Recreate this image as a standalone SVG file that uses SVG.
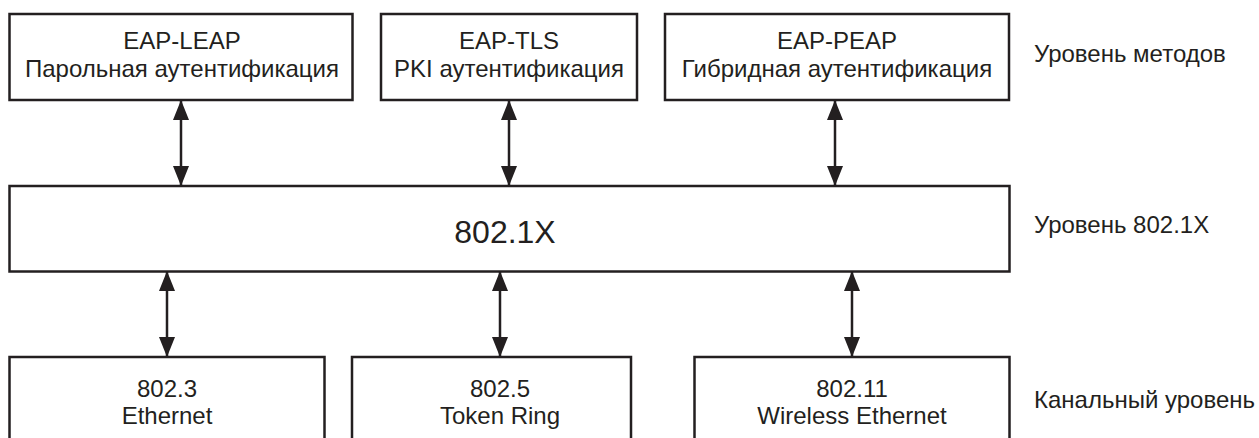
<svg xmlns="http://www.w3.org/2000/svg" width="1259" height="438" viewBox="0 0 1259 438">
<style>
.box{fill:#fff;stroke:#231f20;stroke-width:2.5}
.t{font-family:"Liberation Sans",Arial,sans-serif;font-size:24px;fill:#231f20;text-anchor:middle}
.lbl{font-family:"Liberation Sans",Arial,sans-serif;font-size:24px;fill:#231f20}
.big{font-size:32px}
.c{stroke:#231f20;stroke-width:2.5;fill:none;marker-start:url(#ah);marker-end:url(#ah)}
</style>
<defs>
<marker id="ah" viewBox="0 0 20 16" refX="20" refY="8" markerUnits="userSpaceOnUse" markerWidth="20" markerHeight="16" orient="auto-start-reverse">
<path d="M0,0 L20,8 L0,16 Z" fill="#231f20"/>
</marker>
</defs>
<rect width="1259" height="438" fill="#fff"/>
<g id="connectors">
<line class="c" x1="181" y1="100" x2="181" y2="186"/>
<line class="c" x1="509" y1="100" x2="509" y2="186"/>
<line class="c" x1="835" y1="100" x2="835" y2="186"/>
<line class="c" x1="167" y1="271" x2="167" y2="357"/>
<line class="c" x1="500" y1="271" x2="500" y2="357"/>
<line class="c" x1="852" y1="271" x2="852" y2="357"/>
</g>
<g id="leap">
<rect class="box" x="9.5" y="14" width="343" height="86"/>
<text class="t" x="182" y="49">EAP-LEAP</text>
<text class="t" x="182" y="77">Парольная аутентификация</text>
</g>
<g id="tls">
<rect class="box" x="381" y="14" width="256" height="86"/>
<text class="t" x="509" y="49">EAP-TLS</text>
<text class="t" x="509" y="77">PKI аутентификация</text>
</g>
<g id="peap">
<rect class="box" x="665" y="14" width="344" height="86"/>
<text class="t" x="837" y="49">EAP-PEAP</text>
<text class="t" x="837" y="77">Гибридная аутентификация</text>
</g>
<g id="dot1x">
<rect class="box" x="9.5" y="186" width="1000" height="85.5"/>
<text class="t big" x="505" y="243">802.1X</text>
</g>
<g id="eth">
<rect class="box" x="9.5" y="357" width="315" height="100"/>
<text class="t" x="167" y="397">802.3</text>
<text class="t" x="167" y="424">Ethernet</text>
</g>
<g id="token">
<rect class="box" x="352" y="357" width="279" height="100"/>
<text class="t" x="500" y="397">802.5</text>
<text class="t" x="500" y="424">Token Ring</text>
</g>
<g id="wireless">
<rect class="box" x="694.5" y="357" width="315" height="100"/>
<text class="t" x="852" y="397">802.11</text>
<text class="t" x="852" y="424">Wireless Ethernet</text>
</g>
<g id="labels">
<text class="lbl" x="1034" y="62">Уровень методов</text>
<text class="lbl" x="1034" y="233">Уровень 802.1X</text>
<text class="lbl" x="1034" y="408">Канальный уровень</text>
</g>
</svg>
